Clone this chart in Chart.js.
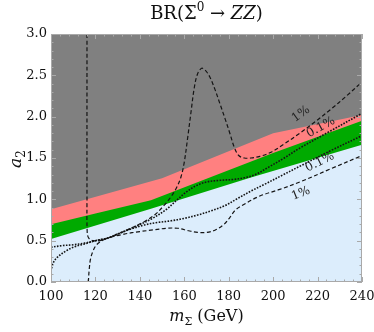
<!DOCTYPE html>
<html>
<head>
<meta charset="utf-8">
<script src="https://cdn.jsdelivr.net/npm/chart.js@4.4.0/dist/chart.umd.min.js"></script>
<style>
  html, body { margin: 0; padding: 0; background: #fff; }
</style>
</head>
<body>
<canvas id="br_chart" width="374" height="332"></canvas>
<script>
let x_ticks = [100, 120, 140, 160, 180, 200, 220, 240];
let y_ticks = [0.0, 0.5, 1.0, 1.5, 2.0, 2.5, 3.0];

// shaded regions (upper edges)
let gray_edge_x = [100, 150, 200, 240];
let gray_edge_y = [0.88, 1.255, 1.80, 2.02];

let green_top_x = [100, 120, 145, 170, 200, 240];
let green_top_y = [0.70, 0.83, 0.99, 1.25, 1.56, 1.95];

let green_bottom_x = [100, 145, 190, 240];
let green_bottom_y = [0.52, 0.885, 1.265, 1.66];

// BR = 1% contours (dashed)
let br1_upper_x = [116.8, 117.2, 117.8, 119, 120.5, 123, 126, 130, 136, 142, 147, 151, 154, 156.5, 158.5, 160, 161.5, 163, 164.5, 166, 167.8, 169.5, 171.5, 173.8, 176, 178.3, 180.5, 182.5, 184.5, 187, 190, 194, 199, 205, 212, 219, 226, 233, 240];
let br1_upper_y = [0.0, 0.15, 0.28, 0.38, 0.45, 0.50, 0.535, 0.58, 0.65, 0.73, 0.82, 0.93, 1.03, 1.14, 1.27, 1.45, 1.74, 2.05, 2.35, 2.52, 2.585, 2.56, 2.48, 2.33, 2.16, 1.98, 1.80, 1.63, 1.53, 1.50, 1.50, 1.52, 1.57, 1.67, 1.80, 1.94, 2.09, 2.25, 2.42];

let br1_lower_x = [116.2, 116.2, 116.3, 117.0, 119, 122, 126, 133, 140, 146, 152, 157, 162, 166, 170, 174, 178, 180.5, 183, 187, 194, 203, 212, 226, 240];
let br1_lower_y = [3.0, 1.0, 0.60, 0.53, 0.50, 0.50, 0.535, 0.58, 0.61, 0.63, 0.65, 0.65, 0.62, 0.60, 0.60, 0.63, 0.70, 0.78, 0.87, 0.94, 1.04, 1.12, 1.21, 1.37, 1.53];

// BR = 0.1% contours (dotted)
let br01_upper_x = [100, 100.8, 102.5, 107, 111, 115, 120, 126, 130, 137, 145, 152, 157, 161, 165, 170, 176, 182, 187, 192, 198, 205, 212, 226, 240];
let br01_upper_y = [0.13, 0.22, 0.29, 0.38, 0.43, 0.46, 0.50, 0.535, 0.58, 0.66, 0.76, 0.88, 1.00, 1.09, 1.16, 1.21, 1.23, 1.24, 1.26, 1.30, 1.39, 1.50, 1.62, 1.83, 2.04];

let br01_lower_x = [100, 105, 110, 115, 120, 126, 130, 136, 142, 148, 154, 160, 166, 172, 178, 184, 190, 196, 204, 212, 226, 240];
let br01_lower_y = [0.42, 0.44, 0.45, 0.47, 0.50, 0.535, 0.58, 0.64, 0.69, 0.72, 0.74, 0.77, 0.81, 0.86, 0.92, 1.01, 1.10, 1.18, 1.29, 1.40, 1.59, 1.77];

// contour labels
let label_text = ['1%', '0.1%', '0.1%', '1%'];
let label_x = [212.5, 221.5, 221.0, 212.5];
let label_y = [2.03, 1.87, 1.45, 1.07];
let label_line = [0, 2, 3, 1];

let serif = 'DejaVu Serif';

function toPoints(xs, ys) {
  return xs.map(function(x, i) { return {x: x, y: ys[i]}; });
}

function contourSet(xs, ys, dash, width) {
  return {
    data: toPoints(xs, ys),
    borderColor: '#141414',
    borderWidth: width,
    borderDash: dash,
    pointRadius: 0,
    tension: 0.35,
    fill: false
  };
}

function regionSet(xs, ys, color) {
  return {
    data: toPoints(xs, ys),
    borderWidth: 0,
    borderColor: color,
    backgroundColor: color,
    pointRadius: 0,
    tension: 0,
    fill: 'end'
  };
}

function interpY(pts, xv) {
  for(let i = pts.length - 1; i > 0; i--) {
    let a = pts[i-1], b = pts[i];
    if(a.x <= xv && b.x >= xv && b.x > a.x) {
      return a.y + (b.y - a.y) * (xv - a.x) / (b.x - a.x);
    }
  }
  return pts[pts.length-1].y;
}

function drawPieces(ctx, pieces, cx, baseline) {
  let total = 0;
  pieces.forEach(function(p) { ctx.font = p[1]; total += ctx.measureText(p[0]).width; });
  let x = cx - total / 2;
  pieces.forEach(function(p) {
    ctx.font = p[1];
    ctx.fillText(p[0], x, baseline + p[2]);
    x += ctx.measureText(p[0]).width;
  });
}

let backgroundPlugin = {
  id: 'lightBlue',
  beforeDatasetsDraw: function(chart) {
    let a = chart.chartArea, ctx = chart.ctx;
    ctx.save();
    ctx.fillStyle = '#dcedfc';
    ctx.fillRect(a.left, a.top, a.right - a.left, a.bottom - a.top);
    ctx.restore();
  }
};

let framePlugin = {
  id: 'frame',
  afterDatasetsDraw: function(chart) {
    let a = chart.chartArea, ctx = chart.ctx;
    let xs = chart.scales.x, ys = chart.scales.y;
    ctx.save();

    // contour labels
    ctx.fillStyle = '#222';
    ctx.font = '12px ' + serif;
    ctx.textAlign = 'center';
    ctx.textBaseline = 'middle';
    for(let i = 0; i < label_text.length; i++) {
      let pts = chart.data.datasets[label_line[i]].data;
      let x1 = xs.getPixelForValue(label_x[i] - 5), x2 = xs.getPixelForValue(label_x[i] + 5);
      let y1 = ys.getPixelForValue(interpY(pts, label_x[i] - 5));
      let y2 = ys.getPixelForValue(interpY(pts, label_x[i] + 5));
      ctx.save();
      ctx.translate(xs.getPixelForValue(label_x[i]), ys.getPixelForValue(label_y[i]));
      ctx.rotate(Math.atan2(y2 - y1, x2 - x1));
      ctx.fillText(label_text[i], 0, 0);
      ctx.restore();
    }

    // frame and inner ticks
    ctx.strokeStyle = '#a9a9a9';
    ctx.lineWidth = 1;
    ctx.strokeRect(a.left + 0.5, a.top + 0.5, a.right - a.left - 1, a.bottom - a.top - 1);
    ctx.beginPath();
    for(let v = 100; v <= 240; v += 4) {
      let px = Math.round(xs.getPixelForValue(v)) + 0.5;
      let len = (v % 20 == 0) ? 5 : 2.5;
      ctx.moveTo(px, a.bottom); ctx.lineTo(px, a.bottom - len);
      ctx.moveTo(px, a.top); ctx.lineTo(px, a.top + len);
    }
    for(let k = 0; k <= 30; k++) {
      let py = Math.round(ys.getPixelForValue(k / 10)) + 0.5;
      let len = (k % 5 == 0) ? 5 : 2.5;
      ctx.moveTo(a.left, py); ctx.lineTo(a.left + len, py);
      ctx.moveTo(a.right, py); ctx.lineTo(a.right - len, py);
    }
    ctx.stroke();
    ctx.restore();
  },
  afterDraw: function(chart) {
    let ctx = chart.ctx, a = chart.chartArea;
    let mid = (a.left + a.right) / 2;
    ctx.save();
    ctx.fillStyle = '#111';
    ctx.textBaseline = 'alphabetic';
    ctx.textAlign = 'left';
    drawPieces(ctx, [
      ['BR(', '18px ' + serif, 0],
      ['\u03A3', '18px ' + serif, 0],
      ['0', '12px ' + serif, -8],
      [' \u2192 ', '18px ' + serif, 0],
      ['ZZ', 'italic 18px ' + serif, 0],
      [')', '18px ' + serif, 0]
    ], mid, 19);

    drawPieces(ctx, [
      ['m', 'italic 16px ' + serif, 0],
      ['\u03A3', '11px ' + serif, 4],
      [' (GeV)', '16px ' + serif, 0]
    ], mid, 321);

    ctx.translate(21, 159);
    ctx.rotate(-Math.PI / 2);
    drawPieces(ctx, [
      ['a', 'italic 17px ' + serif, 0],
      ['2', '12px ' + serif, 4]
    ], 0, 0);
    ctx.restore();
  }
};

function buildChart() {
  let ctx = document.getElementById('br_chart').getContext('2d');
  new Chart(ctx, {
    type: 'line',
    data: {
      datasets: [
        contourSet(br1_upper_x, br1_upper_y, [4, 2.5], 1.2),
        contourSet(br1_lower_x, br1_lower_y, [4, 2.5], 1.2),
        contourSet(br01_upper_x, br01_upper_y, [1.6, 1.4], 1.6),
        contourSet(br01_lower_x, br01_lower_y, [1.6, 1.4], 1.6),
        regionSet(gray_edge_x, gray_edge_y, '#808080'),
        regionSet(green_top_x, green_top_y, '#ff8080'),
        regionSet(green_bottom_x, green_bottom_y, '#00aa00')
      ]
    },
    options: {
      responsive: false,
      animation: false,
      devicePixelRatio: 1,
      layout: { padding: { left: 0, right: 12, top: 34, bottom: 0 } },
      plugins: { legend: { display: false }, tooltip: { enabled: false } },
      scales: {
        x: {
          type: 'linear',
          min: 100,
          max: 240,
          grid: { display: false, drawTicks: false },
          border: { display: false },
          afterBuildTicks: function(s) { s.ticks = x_ticks.map(function(v) { return {value: v}; }); },
          ticks: {
            padding: 7,
            color: '#111',
            maxRotation: 0,
            autoSkip: false,
            font: { family: serif, size: 13 },
            callback: function(v) { return String(v); }
          },
          afterFit: function(s) { s.height = 50; s.paddingLeft = 0; s.paddingRight = 0; }
        },
        y: {
          type: 'linear',
          min: 0,
          max: 3,
          grid: { display: false, drawTicks: false },
          border: { display: false },
          afterBuildTicks: function(s) { s.ticks = y_ticks.map(function(v) { return {value: v}; }); },
          ticks: {
            padding: 4,
            color: '#111',
            autoSkip: false,
            font: { family: serif, size: 13 },
            callback: function(v) { return v.toFixed(1); }
          },
          afterFit: function(s) { s.width = 51; }
        }
      }
    },
    plugins: [backgroundPlugin, framePlugin]
  });
}

buildChart();
</script>
</body>
</html>
